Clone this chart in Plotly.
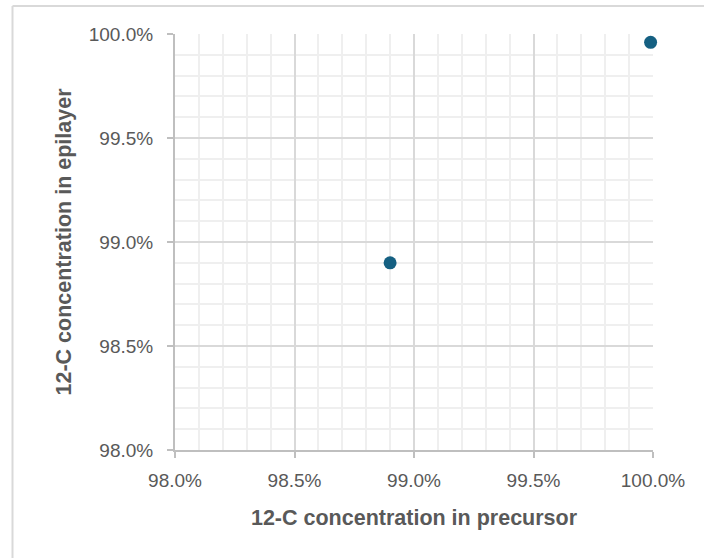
import plotly.graph_objects as go

# Data (fractions, displayed as %)
precursor_c12 = [0.989, 0.9999]
epilayer_c12 = [0.989, 0.9996]

x_title = "12-C concentration in precursor"
y_title = "12-C concentration in epilayer"

W, H = 704, 558
L, R, T, B = 175, 51, 34, 108
pw, ph = W - L - R, H - T - B

FONT = "Liberation Sans, Arial, sans-serif"

fig = go.Figure()
fig.add_trace(go.Scatter(
    x=precursor_c12, y=epilayer_c12, mode="markers",
    marker=dict(size=13, color="#156082"),
    cliponaxis=False, showlegend=False,
))

axis_common = dict(
    tickformat=".1%", dtick=0.005, tick0=0.98,
    showgrid=True, gridcolor="#d9d9d9", gridwidth=1.5,
    minor=dict(dtick=0.001, tick0=0.98, showgrid=True, gridcolor="#efefef", gridwidth=1.5),
    showline=True, linecolor="#bfbfbf", linewidth=2,
    ticks="outside", ticklen=6, tickcolor="#bfbfbf", tickwidth=2,
    tickfont=dict(family=FONT, size=19, color="#595959"),
    zeroline=False,
)

fig.update_xaxes(range=[0.98, 1.0], ticklabelstandoff=6, title=dict(
    text=f"<b>{x_title}</b>", standoff=20,
    font=dict(family=FONT, size=21.5, color="#595959")),
    **axis_common)
fig.update_yaxes(range=[0.98, 1.0], ticklabelstandoff=10, title=dict(
    text=f"<b>{y_title}</b>", standoff=11,
    font=dict(family=FONT, size=21.5, color="#595959")),
    **axis_common)

# outer chart border (partially off-canvas, as in reference)
bx = (12.5 - L) / pw
by = 1 + (T - 6) / ph
fig.add_shape(type="line", xref="paper", yref="paper", x0=bx, x1=bx, y0=by, y1=-1,
              line=dict(color="#d9d9d9", width=2), layer="below")
fig.add_shape(type="line", xref="paper", yref="paper", x0=bx, x1=2, y0=by, y1=by,
              line=dict(color="#d9d9d9", width=2), layer="below")

fig.update_layout(
    width=W, height=H,
    margin=dict(l=L, r=R, t=T, b=B),
    paper_bgcolor="white", plot_bgcolor="white",
)

fig.write_html("out.html", config={"displayModeBar": False},
               post_script="document.body.style.margin='0';")
